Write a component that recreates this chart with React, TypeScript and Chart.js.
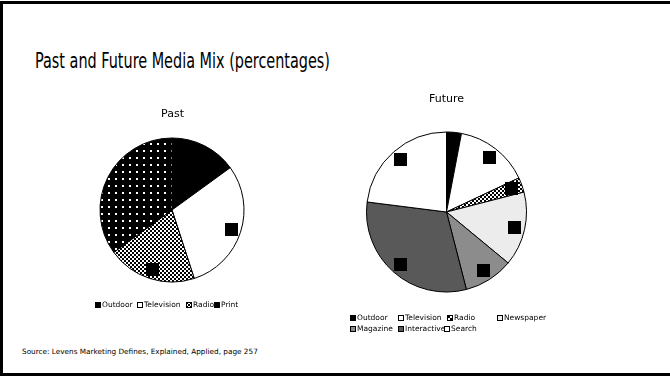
import React, { useEffect, useRef } from "react";
import { Chart, registerables } from "chart.js";

Chart.register(...registerables);

// ---- Data ----
const pastTitle = "Past";
const pastLabels = ["Outdoor", "Television", "Radio", "Print"];
const pastValues = [15, 30, 20, 35];
const pastFills = ["black", "white", "checker", "dots"];
const pastLabelMarks = [false, true, true, false];

const futureTitle = "Future";
const futureLabels = ["Outdoor", "Television", "Radio", "Newspaper", "Magazine", "Interactive", "Search"];
const futureValues = [3, 15, 3, 15, 10, 31, 23];
const futureFills = ["black", "white", "checker", "#ececec", "#8c8c8c", "#595959", "white"];
const futureLabelMarks = [false, true, true, true, true, true, true];

const mainTitle = "Past and Future Media Mix (percentages)";
const sourceText = "Source: Levens Marketing Defines, Explained, Applied, page 257";

const FONT = "'DejaVu Sans', sans-serif";
const TITLE_FONT = "'DejaVu Sans Condensed', 'DejaVu Sans', sans-serif";

function measure(text: string, font: string): number {
  const c = document.createElement("canvas");
  const ctx = c.getContext("2d")!;
  ctx.font = font;
  return ctx.measureText(text).width;
}

function makePattern(kind: string): CanvasPattern | string {
  const tile = document.createElement("canvas");
  const t = tile.getContext("2d")!;
  if (kind === "checker") {
    tile.width = 4;
    tile.height = 4;
    t.fillStyle = "#fff";
    t.fillRect(0, 0, 4, 4);
    t.fillStyle = "#000";
    t.fillRect(0, 0, 2, 2);
    t.fillRect(2, 2, 2, 2);
  } else if (kind === "dots") {
    tile.width = 7;
    tile.height = 7;
    t.fillStyle = "#000";
    t.fillRect(0, 0, 7, 7);
    t.fillStyle = "#fff";
    t.fillRect(3, 3, 2, 2);
  } else {
    return kind;
  }
  const p = t.createPattern(tile, "repeat");
  return p || "#000";
}

const mixPlugin = {
  id: "mixDecor",
  afterDatasetsDraw(chart: any, _args: any, opts: any) {
    const ctx = chart.ctx as CanvasRenderingContext2D;
    const meta = chart.getDatasetMeta(0);
    const marks: boolean[] = opts.marks || [];
    ctx.save();
    ctx.fillStyle = "#000";
    meta.data.forEach((arc: any, i: number) => {
      if (!marks[i]) return;
      const p = arc.getProps(["x", "y", "startAngle", "endAngle", "outerRadius"], true);
      const mid = (p.startAngle + p.endAngle) / 2;
      const r = p.outerRadius * 0.87;
      const cx = p.x + Math.cos(mid) * r;
      const cy = p.y + Math.sin(mid) * r;
      ctx.fillRect(Math.round(cx - 6.5), Math.round(cy - 6.5), 13, 13);
    });
    ctx.restore();
  },
  afterDraw(chart: any, _args: any, opts: any) {
    const ctx = chart.ctx as CanvasRenderingContext2D;
    ctx.save();
    // subtitle
    ctx.fillStyle = "#000";
    ctx.font = `11px ${FONT}`;
    ctx.textAlign = "center";
    ctx.textBaseline = "alphabetic";
    ctx.fillText(opts.title, opts.titleX, opts.titleY);
    // legend
    const labels: string[] = chart.data.labels;
    const fills = chart.data.datasets[0].backgroundColor;
    const pos: number[][] = opts.legendPos;
    ctx.font = `7.5px ${FONT}`;
    ctx.textAlign = "left";
    ctx.textBaseline = "middle";
    labels.forEach((lab, i) => {
      const [x, y] = pos[i];
      ctx.fillStyle = fills[i];
      ctx.fillRect(x, y - 3, 6, 6);
      ctx.strokeStyle = "#000";
      ctx.lineWidth = 1;
      ctx.strokeRect(x + 0.5, y - 2.5, 5, 5);
      ctx.fillStyle = "#000";
      ctx.fillText(lab, x + 7, y + 0.5);
    });
    ctx.restore();
  },
};

function PieCanvas(props: {
  labels: string[];
  values: number[];
  fills: string[];
  marks: boolean[];
  title: string;
  titleX: number;
  titleY: number;
  radius: number;
  padding: { left: number; right: number; top: number; bottom: number };
  legendPos: number[][];
}) {
  const ref = useRef<HTMLCanvasElement>(null);
  useEffect(() => {
    const canvas = ref.current!;
    const colors = props.fills.map((f) => makePattern(f));
    const chart = new Chart(canvas, {
      type: "pie",
      data: {
        labels: props.labels,
        datasets: [
          {
            data: props.values,
            backgroundColor: colors as any,
            borderColor: "#000",
            borderWidth: 1,
            radius: props.radius,
          } as any,
        ],
      },
      options: {
        responsive: false,
        animation: false,
        events: [],
        layout: { padding: props.padding },
        plugins: {
          legend: { display: false },
          title: { display: false },
          tooltip: { enabled: false },
          mixDecor: {
            marks: props.marks,
            title: props.title,
            titleX: props.titleX,
            titleY: props.titleY,
            legendPos: props.legendPos,
          },
        } as any,
      },
      plugins: [mixPlugin as any],
    });
    return () => chart.destroy();
  }, []);
  return (
    <canvas
      ref={ref}
      width={670}
      height={376}
      style={{ position: "absolute", left: 0, top: 0, width: 670, height: 376 }}
    />
  );
}

export default function App() {
  const titleFont = `21px ${TITLE_FONT}`;
  const titleW = measure(mainTitle, titleFont) || 295;
  const titleScale = 295 / titleW;
  return (
    <div
      style={{
        position: "fixed",
        left: 0,
        top: 0,
        width: 670,
        height: 376,
        background: "#fff",
        overflow: "hidden",
      }}
    >
      <div
        style={{
          position: "absolute",
          left: 0,
          top: 1,
          width: 680,
          height: 375,
          boxSizing: "border-box",
          borderLeft: "3px solid #000",
          borderTop: "3px solid #000",
          borderBottom: "3px solid #000",
        }}
      />
      <div
        style={{
          position: "absolute",
          left: 35,
          top: 51,
          fontFamily: TITLE_FONT,
          fontSize: 21,
          lineHeight: "21px",
          color: "#000",
          whiteSpace: "nowrap",
          transform: `scaleX(${titleScale})`,
          transformOrigin: "0 0",
        }}
      >
        {mainTitle}
      </div>
      <div
        style={{
          position: "absolute",
          left: 22,
          top: 348,
          fontFamily: FONT,
          fontSize: 7.3,
          lineHeight: "8px",
          color: "#000",
          whiteSpace: "nowrap",
        }}
      >
        {sourceText}
      </div>
      <PieCanvas
        labels={pastLabels}
        values={pastValues}
        fills={pastFills}
        marks={pastLabelMarks}
        title={pastTitle}
        titleX={172.5}
        titleY={117}
        radius={72}
        padding={{ left: 100, right: 426, top: 138, bottom: 94 }}
        legendPos={[
          [95, 305],
          [137, 305],
          [186, 305],
          [214, 305],
        ]}
      />
      <PieCanvas
        labels={futureLabels}
        values={futureValues}
        fills={futureFills}
        marks={futureLabelMarks}
        title={futureTitle}
        titleX={446.5}
        titleY={102}
        radius={80}
        padding={{ left: 366.5, right: 143.5, top: 132, bottom: 84 }}
        legendPos={[
          [350, 318],
          [398, 318],
          [447, 318],
          [497, 318],
          [350, 329],
          [398, 329],
          [444, 329],
        ]}
      />
    </div>
  );
}
